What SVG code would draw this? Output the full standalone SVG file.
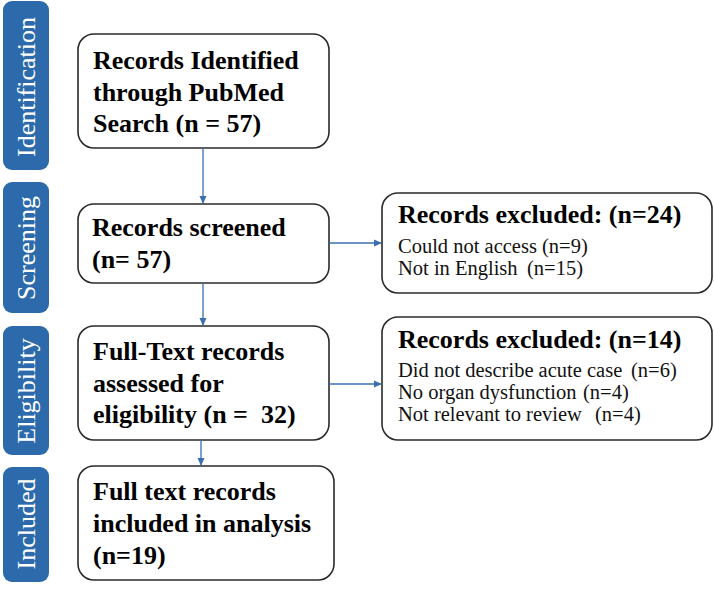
<svg xmlns="http://www.w3.org/2000/svg" width="714" height="590" viewBox="0 0 714 590">
<defs>
<marker id="ah" viewBox="0 0 8 8" refX="7" refY="4" markerWidth="8" markerHeight="8" markerUnits="userSpaceOnUse" orient="auto">
<path d="M0,0.5 L8,4 L0,7.5 Z" fill="#3c6fb0"/>
</marker>
<style>
text{white-space:pre;}
.side{fill:#2c6aab;}
.sidet{fill:#ffffff;font-family:"Liberation Serif","Times New Roman",serif;font-size:26px;text-anchor:middle;}
.box{fill:#ffffff;stroke:#2a2a2a;stroke-width:1.6;}
.bt{font-family:"Liberation Serif","Times New Roman",serif;font-size:26px;font-weight:bold;fill:#000;}
.rt{font-family:"Liberation Serif","Times New Roman",serif;font-size:20.5px;fill:#111;}
.conn{stroke:#3c6fb0;stroke-width:1.3;fill:none;marker-end:url(#ah);}
</style>
</defs>
<rect width="714" height="590" fill="#ffffff"/>
<g id="side-identification">
<rect class="side" x="3" y="1" width="46" height="169" rx="9"/>
<text class="sidet" transform="translate(35,87) rotate(-90)">Identification</text>
</g>
<g id="side-screening">
<rect class="side" x="3" y="182" width="46" height="131" rx="9"/>
<text class="sidet" transform="translate(35,248) rotate(-90)">Screening</text>
</g>
<g id="side-eligibility">
<rect class="side" x="3" y="326" width="46" height="129" rx="9"/>
<text class="sidet" transform="translate(35,391) rotate(-90)">Eligibility</text>
</g>
<g id="side-included">
<rect class="side" x="3" y="467" width="46" height="115" rx="9"/>
<text class="sidet" transform="translate(35,524) rotate(-90)">Included</text>
</g>
<g id="n1">
<rect class="box" x="78" y="34" width="251" height="114" rx="16"/>
<text class="bt" x="93" y="69">Records Identified</text>
<text class="bt" x="93" y="101">through PubMed</text>
<text class="bt" x="93" y="132">Search (n = 57)</text>
</g>
<g id="n2">
<rect class="box" x="78" y="204" width="251" height="79" rx="16"/>
<text class="bt" x="92" y="236">Records screened</text>
<text class="bt" x="92" y="268">(n= 57)</text>
</g>
<g id="n3">
<rect class="box" x="78" y="326" width="251" height="114" rx="16"/>
<text class="bt" x="93" y="360">Full-Text records</text>
<text class="bt" x="93" y="392">assessed for</text>
<text class="bt" x="93" y="423">eligibility (n =  32)</text>
</g>
<g id="n4">
<rect class="box" x="78" y="466" width="256" height="114" rx="16"/>
<text class="bt" x="93" y="500">Full text records</text>
<text class="bt" x="93" y="532">included in analysis</text>
<text class="bt" x="93" y="564">(n=19)</text>
</g>
<g id="x1">
<rect class="box" x="382" y="193" width="330" height="100" rx="16"/>
<text class="bt" x="398" y="223">Records excluded: (n=24)</text>
<text class="rt" x="398" y="253">Could not access<tspan x="542">(n=9)</tspan></text>
<text class="rt" x="398" y="275">Not in English<tspan x="527">(n=15)</tspan></text>
</g>
<g id="x2">
<rect class="box" x="382" y="317" width="330" height="123" rx="16"/>
<text class="bt" x="398" y="348">Records excluded: (n=14)</text>
<text class="rt" x="398" y="377">Did not describe acute case<tspan x="631">(n=6)</tspan></text>
<text class="rt" x="398" y="399">No organ dysfunction<tspan x="583">(n=4)</tspan></text>
<text class="rt" x="398" y="421">Not relevant to review<tspan x="595">(n=4)</tspan></text>
</g>
<g id="connectors">
<line class="conn" x1="203" y1="148" x2="203" y2="203"/>
<line class="conn" x1="203" y1="283" x2="203" y2="325"/>
<line class="conn" x1="201" y1="440" x2="201" y2="465"/>
<line class="conn" x1="329" y1="243" x2="381" y2="243"/>
<line class="conn" x1="329" y1="384" x2="381" y2="384"/>
</g>
</svg>
